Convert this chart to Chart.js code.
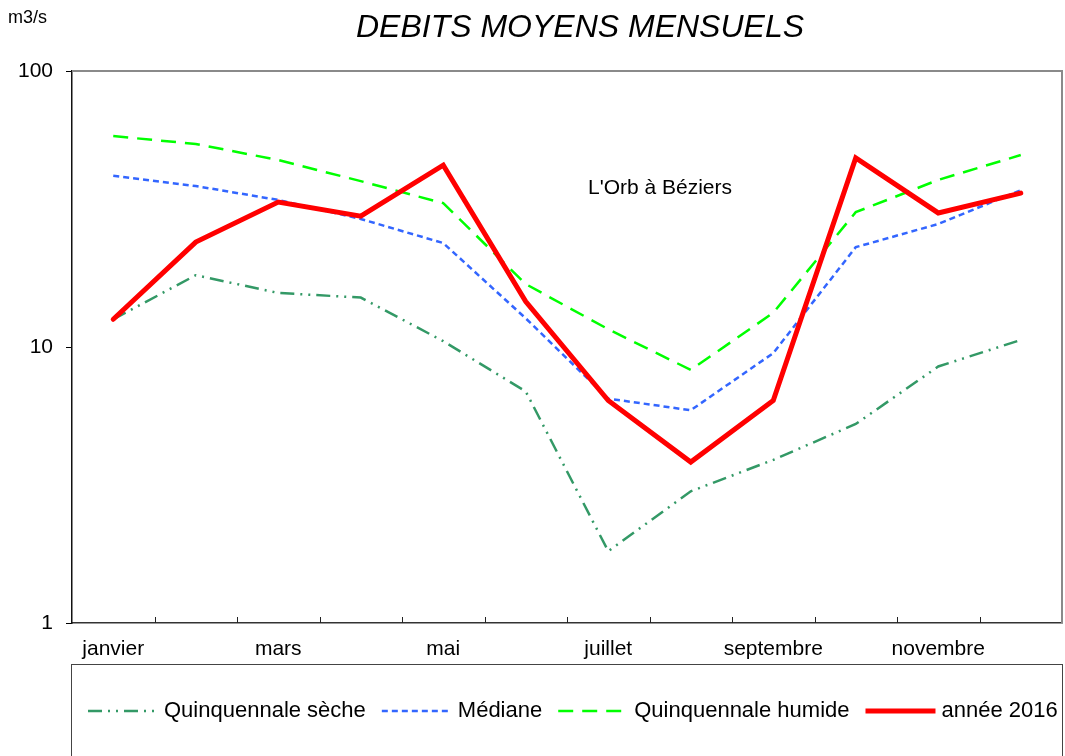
<!DOCTYPE html>
<html lang="fr">
<head>
<meta charset="utf-8">
<title>Débits moyens mensuels</title>
<script src="https://cdn.jsdelivr.net/npm/chart.js@4.4.1/dist/chart.umd.min.js"></script>
<style>
  html, body { margin: 0; padding: 0; background: #fff; }
  #wrap { width: 1065px; height: 756px; }
</style>
</head>
<body>
<div id="wrap"><canvas id="debitsChart" width="1065" height="756"></canvas></div>
<script>
const mois = ['janvier', 'février', 'mars', 'avril', 'mai', 'juin', 'juillet', 'août', 'septembre', 'octobre', 'novembre', 'décembre'];
const quinquennaleSeche = [12.6, 18.2, 15.7, 15.1, 10.5, 6.9, 1.82, 3.0, 3.9, 5.26, 8.5, 10.6];
const mediane = [41.7, 38.3, 34.1, 29.1, 23.8, 12.7, 6.5, 5.9, 9.5, 23.0, 27.9, 37.0];
const quinquennaleHumide = [58.1, 54.4, 47.6, 39.9, 33.2, 16.9, 11.6, 8.26, 13.3, 30.8, 40.3, 49.6];
const annee2016 = [12.6, 24.0, 33.5, 29.8, 45.6, 14.6, 6.4, 3.83, 6.4, 48.4, 30.6, 36.1];
const yTicks = [1, 10, 100];

const FONT = '"Liberation Sans", Arial, sans-serif';

const cadre = {
    id: 'cadre',
    afterDraw(chart) {
        const ctx = chart.ctx;
        const a = chart.chartArea;
        const x = chart.scales.x;
        ctx.save();

        // haut et droite du cadre
        ctx.strokeStyle = '#8a8a8a';
        ctx.lineWidth = 2;
        ctx.beginPath();
        ctx.moveTo(a.left, a.top);
        ctx.lineTo(a.right, a.top);
        ctx.lineTo(a.right, a.bottom);
        ctx.stroke();

        // graduations entre les mois, vers l'intérieur
        ctx.strokeStyle = '#222';
        ctx.lineWidth = 1;
        for (let i = 1; i < mois.length; i++) {
            const px = Math.round(x.getPixelForValue(i - 0.5)) + 0.5;
            ctx.beginPath();
            ctx.moveTo(px, a.bottom);
            ctx.lineTo(px, a.bottom - 6);
            ctx.stroke();
        }

        // titres
        ctx.fillStyle = '#000';
        ctx.textBaseline = 'middle';
        ctx.textAlign = 'center';
        ctx.font = 'italic 32px ' + FONT;
        ctx.fillText('DEBITS MOYENS MENSUELS', 580, 28);
        ctx.font = '18px ' + FONT;
        ctx.textAlign = 'left';
        ctx.fillText('m3/s', 8, 18);
        ctx.font = '21px ' + FONT;
        ctx.textAlign = 'center';
        ctx.fillText("L'Orb à Béziers", 660, 188);

        // légende
        ctx.strokeStyle = '#444';
        ctx.lineWidth = 1;
        ctx.strokeRect(a.left - 0.5, 664.5, a.right - a.left + 1, 120);
        ctx.font = '22px ' + FONT;
        ctx.textAlign = 'left';
        let lx = 88;
        const ly = 711;
        chart.data.datasets.forEach(ds => {
            ctx.save();
            ctx.strokeStyle = ds.borderColor;
            ctx.lineWidth = ds.borderWidth;
            ctx.setLineDash(ds.borderDash || []);
            ctx.beginPath();
            ctx.moveTo(lx, ly);
            ctx.lineTo(lx + 70, ly);
            ctx.stroke();
            ctx.restore();
            lx += 76;
            ctx.fillText(ds.label, lx, ly);
            lx += ctx.measureText(ds.label).width + 16;
        });
        ctx.restore();
    }
};

const ctx = document.getElementById('debitsChart').getContext('2d');

new Chart(ctx, {
    type: 'line',
    data: {
        labels: mois,
        datasets: [
            {
                label: 'Quinquennale sèche',
                data: quinquennaleSeche,
                borderColor: '#339966',
                borderWidth: 2.5,
                borderDash: [14, 6, 2, 6, 2, 6],
                order: 4,
            },
            {
                label: 'Médiane',
                data: mediane,
                borderColor: '#3366ff',
                borderWidth: 2.5,
                borderDash: [6, 4],
                order: 3,
            },
            {
                label: 'Quinquennale humide',
                data: quinquennaleHumide,
                borderColor: '#00ff00',
                borderWidth: 2.5,
                borderDash: [15, 9],
                order: 2,
            },
            {
                label: 'année 2016',
                data: annee2016,
                borderColor: '#ff0000',
                borderWidth: 5,
                borderCapStyle: 'round',
                order: 1,
            },
        ],
    },
    options: {
        responsive: false,
        animation: false,
        events: [],
        elements: {
            point: { radius: 0 },
            line: { tension: 0, fill: false, borderJoinStyle: 'miter' },
        },
        layout: {
            padding: { top: 71, right: 3, bottom: 92, left: 0 },
        },
        plugins: {
            legend: { display: false },
            title: { display: false },
            tooltip: { enabled: false },
        },
        scales: {
            x: {
                type: 'category',
                offset: true,
                grid: { display: false },
                border: { display: true, color: '#333', width: 1.5 },
                ticks: {
                    autoSkip: false,
                    maxRotation: 0,
                    padding: 6,
                    color: '#000',
                    font: { family: FONT, size: 21 },
                    callback: (v, i) => (i % 2 === 0 ? mois[i] : ''),
                },
                afterFit: scale => { scale.height = 41; },
            },
            y: {
                type: 'logarithmic',
                min: 1,
                max: 100,
                grid: {
                    drawOnChartArea: false,
                    drawTicks: true,
                    tickLength: 6,
                    color: '#000',
                },
                border: { display: true, color: '#111', width: 1.5 },
                ticks: {
                    padding: 13,
                    color: '#000',
                    font: { family: FONT, size: 21 },
                    callback: v => String(v),
                },
                afterBuildTicks: scale => {
                    scale.ticks = yTicks.map(v => ({ value: v }));
                },
                afterFit: scale => { scale.width = 72; },
            },
        },
    },
    plugins: [cadre],
});
</script>
</body>
</html>
